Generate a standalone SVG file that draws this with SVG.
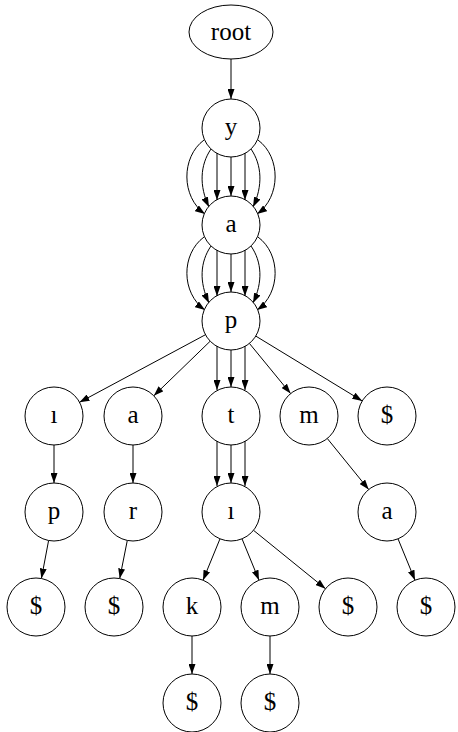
<svg xmlns="http://www.w3.org/2000/svg" width="458" height="732" viewBox="0 0 458 732">
<style>
.n ellipse, .n circle { fill: #fff; stroke: #000; stroke-width: 1; }
.n text { font-family: "Liberation Serif", "Times New Roman", serif; font-size: 25px; text-anchor: middle; fill: #000; }
#edges path { fill: none; stroke: #000; stroke-width: 1; marker-end: url(#ah); }
</style>
<defs>
<marker id="ah" viewBox="0 0 10 7" refX="10" refY="3.5" markerWidth="10" markerHeight="7" orient="auto" markerUnits="userSpaceOnUse">
<path d="M0,0 L10,3.5 L0,7 z" fill="#000"/>
</marker>
</defs>
<rect width="458" height="732" fill="#fff"/>
<g id="edges">
<path d="M231,59 L231,99"/>
<path d="M204,140 C181,157 181,197 205,214"/>
<path d="M211,149 C200,165 199,186 209,207"/>
<path d="M217,153 L217,200"/>
<path d="M231,157 L231,196"/>
<path d="M245,153 L245,200"/>
<path d="M251,149 C262,165 263,186 253,207"/>
<path d="M258,140 C281,157 281,197 257,214"/>
<path d="M204,237 C181,254 181,293 205,310"/>
<path d="M211,246 C200,262 199,282 209,303"/>
<path d="M217,250 L217,296"/>
<path d="M231,254 L231,292"/>
<path d="M245,250 L245,296"/>
<path d="M251,246 C262,262 263,282 253,303"/>
<path d="M258,237 C281,254 281,293 257,310"/>
<path d="M205.5,334.7 L79.5,402.3"/>
<path d="M210.2,341.2 L153.8,395.8"/>
<path d="M217,346 L217,390"/>
<path d="M231,350 L231,387"/>
<path d="M245,346 L245,390"/>
<path d="M249.4,343.4 L290.6,393.6"/>
<path d="M255.8,336.1 L362.2,400.9"/>
<path d="M54,445 L54,483"/>
<path d="M133,445 L133,483"/>
<path d="M217,441 L217,486"/>
<path d="M231,445 L231,483"/>
<path d="M245,441 L245,486"/>
<path d="M327.3,438.5 L368.7,489.5"/>
<path d="M48.6,540.5 L41.4,578.5"/>
<path d="M127.3,540.4 L119.7,578.6"/>
<path d="M220,538.8 L203,580.2"/>
<path d="M242,538.8 L259,580.2"/>
<path d="M253.5,530.3 L325.5,588.7"/>
<path d="M398,538.8 L415,580.2"/>
<path d="M192,636 L192,674"/>
<path d="M270,636 L270,674"/>
</g>
<g id="n_root" class="n"><ellipse cx="231" cy="32" rx="42" ry="27"/><text x="231" y="40">root</text></g>
<g id="n_y" class="n"><circle cx="231" cy="128" r="29"/><text x="231" y="135">y</text></g>
<g id="n_a" class="n"><circle cx="231" cy="225" r="29"/><text x="231" y="232">a</text></g>
<g id="n_p" class="n"><circle cx="231" cy="321" r="29"/><text x="231" y="328">p</text></g>
<g id="n_i1" class="n"><circle cx="54" cy="416" r="29"/><text x="54" y="423">ı</text></g>
<g id="n_a2" class="n"><circle cx="133" cy="416" r="29"/><text x="133" y="423">a</text></g>
<g id="n_t" class="n"><circle cx="231" cy="416" r="29"/><text x="231" y="423">t</text></g>
<g id="n_m1" class="n"><circle cx="309" cy="416" r="29"/><text x="309" y="423">m</text></g>
<g id="n_d1" class="n"><circle cx="387" cy="416" r="29"/><text x="387" y="423">$</text></g>
<g id="n_p2" class="n"><circle cx="54" cy="512" r="29"/><text x="54" y="519">p</text></g>
<g id="n_r" class="n"><circle cx="133" cy="512" r="29"/><text x="133" y="519">r</text></g>
<g id="n_i2" class="n"><circle cx="231" cy="512" r="29"/><text x="231" y="519">ı</text></g>
<g id="n_a3" class="n"><circle cx="387" cy="512" r="29"/><text x="387" y="519">a</text></g>
<g id="n_d2" class="n"><circle cx="36" cy="607" r="29"/><text x="36" y="614">$</text></g>
<g id="n_d3" class="n"><circle cx="114" cy="607" r="29"/><text x="114" y="614">$</text></g>
<g id="n_k" class="n"><circle cx="192" cy="607" r="29"/><text x="192" y="614">k</text></g>
<g id="n_m2" class="n"><circle cx="270" cy="607" r="29"/><text x="270" y="614">m</text></g>
<g id="n_d4" class="n"><circle cx="348" cy="607" r="29"/><text x="348" y="614">$</text></g>
<g id="n_d5" class="n"><circle cx="426" cy="607" r="29"/><text x="426" y="614">$</text></g>
<g id="n_d6" class="n"><circle cx="192" cy="703" r="29"/><text x="192" y="710">$</text></g>
<g id="n_d7" class="n"><circle cx="270" cy="703" r="29"/><text x="270" y="710">$</text></g>
</svg>
